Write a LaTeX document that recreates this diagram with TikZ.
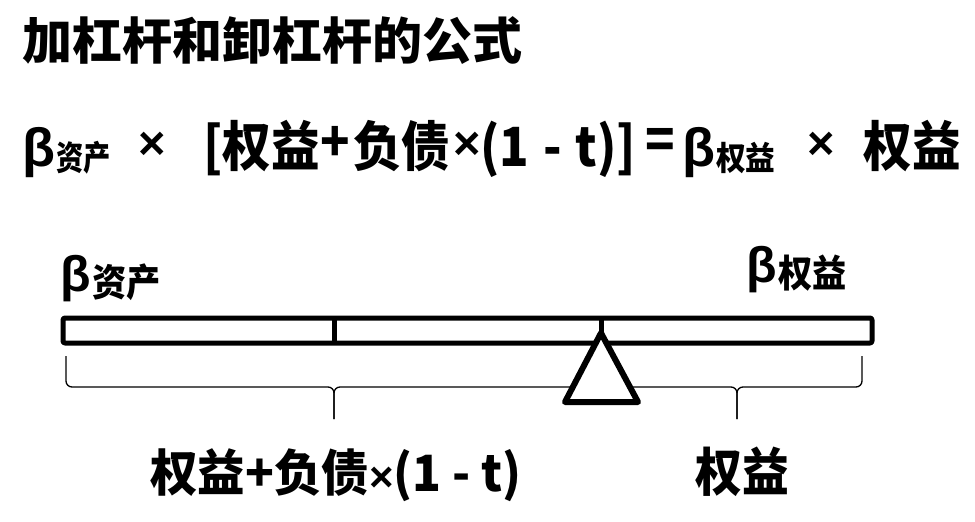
\documentclass[tikz,border=0pt]{standalone}
\usepackage{fontspec}
\setmainfont{Noto Sans CJK SC}
\newfontfamily\cjkn{Noto Sans CJK SC}[FakeStretch=0.9]
\newfontfamily\cjkm{Noto Sans CJK SC}[FakeStretch=0.95]
\newfontfamily\cjks{Noto Sans CJK SC}[FakeStretch=0.8]
\newfontfamily\grk{Liberation Sans}
\usepackage{tikz}
\usetikzlibrary{positioning}

% one brace under the beam: left end, tip, right end
\newcommand{\beambrace}[3]{%
  \draw[bracel] (#1,356) -- (#1,387) -- (#2,387) -- (#2,419);
  \draw[bracel] (#2,419) -- (#2,387) -- (#3,387) -- (#3,356);}

\begin{document}
\begin{tikzpicture}[x=1pt, y=-1pt, every node/.style={inner sep=0pt, font=\bfseries},
    fbig/.style={font=\bfseries\cjkn\fontsize{54}{54}\selectfont},
    ftimes/.style={font=\bfseries\grk\fontsize{47}{47}\selectfont},
    beam/.style={line width=5pt, line join=round},
    bracel/.style={line width=1.3pt, rounded corners=6pt}]
  \useasboundingbox[fill=white] (0,0) rectangle (975,522);

  \node[anchor=base west, font=\bfseries\fontsize{50}{50}\selectfont] (title) at (22,59) {加杠杆和卸杠杆的公式};

  % formula
  \node[anchor=base west, font=\bfseries\grk\fontsize{54}{54}\selectfont] (fb1) at (22,166) {β};
  \node[font=\bfseries\cjks\fontsize{34}{34}\selectfont, anchor=base west] (fs1) at (56,170) {资产};
  \node[ftimes] (fx1) at (152,146) {×};
  \node[fbig, anchor=base west] (fm1) at (203,166) {[权益};
  \node[fbig] (fplus) at (335,144) {+};
  \node[fbig, anchor=base west] (fm2) at (353,166) {负债};
  \node[ftimes] (fx3) at (467,146) {×};
  \node[fbig, anchor=base west] (fm3) at (480,166) {(1\hspace{14pt}-\hspace{14pt}t)]};
  \node[fbig] (feq) at (660,144) {=};
  \node[anchor=base west, font=\bfseries\grk\fontsize{54}{54}\selectfont] (fb2) at (682,166) {β};
  \node[font=\bfseries\cjkn\fontsize{33}{33}\selectfont, anchor=base west] (fs2) at (716,170) {权益};
  \node[ftimes] (fx2) at (821,146) {×};
  \node[fbig, anchor=base east] (fr) at (961,166) {权益};

  % labels above the beam
  \node[anchor=base west, font=\bfseries\grk\fontsize{50}{50}\selectfont] (lb) at (60,291) {β};
  \node[font=\bfseries\cjkn\fontsize{38}{38}\selectfont, base right=1pt of lb, yshift=-5pt] (ls) {资产};
  \node[anchor=base west, font=\bfseries\grk\fontsize{50}{50}\selectfont] (rb) at (746,282) {β};
  \node[font=\bfseries\cjkn\fontsize{38}{38}\selectfont, base right=1pt of rb, yshift=-5pt] (rs) {权益};

  % beam and pivot
  \draw[beam, rounded corners=2pt] (63,318) rectangle (872,343);
  \draw[beam] (334,318) -- (334,343);
  \beambrace{66}{334}{602}
  \beambrace{612}{737}{862}
  \draw[beam] (601,318) -- (601,336);
  \draw[line width=6pt, line join=round, fill=white] (601,333) -- (638,402) -- (565,402) -- cycle;

  % labels below the braces
  \node[font=\bfseries\cjkm\fontsize{50}{50}\selectfont, anchor=base] (lq) at (336,491) {权益+负债{\grk\fontsize{42}{42}\selectfont×}(1 - t)};
  \node[font=\bfseries\cjkn\fontsize{52}{52}\selectfont, anchor=base] (rq) at (742,491) {权益};
\end{tikzpicture}
\end{document}
